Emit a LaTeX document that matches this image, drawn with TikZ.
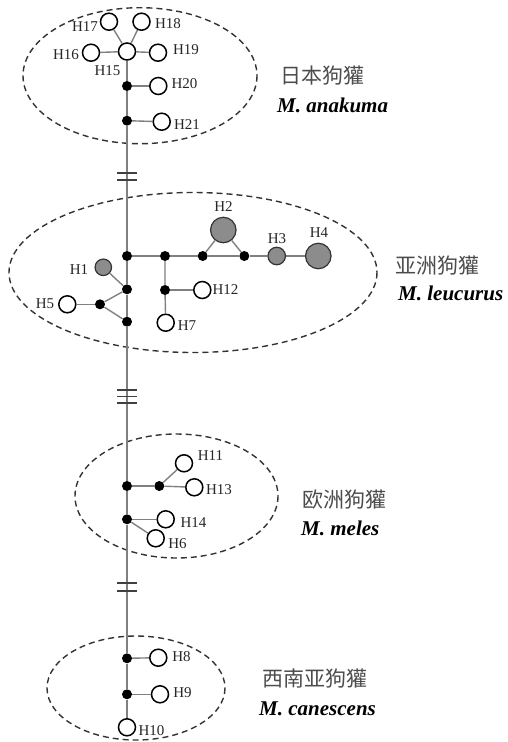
\documentclass[tikz,border=0pt]{standalone}
\usepackage{fontspec}
\setmainfont{Liberation Serif}
\newfontfamily\cjk{Noto Sans CJK SC}
\begin{document}
\begin{tikzpicture}[x=1pt,y=-1pt,
  link/.style={draw=black!50,line width=1.4pt},
  openhap/.style={circle,draw=black,line width=1.5pt,fill=white,minimum size=17pt,inner sep=0pt},
  grayhap/.style={circle,draw=black!80,line width=1.2pt,fill=black!45,minimum size=#1,inner sep=0pt},
  grayhap/.default=17pt,
  median/.style={circle,fill=black,minimum size=10pt,inner sep=0pt},
  hlabel/.style={font=\fontsize{15}{15}\selectfont,inner sep=0pt,text=black!85},
  group/.style={draw=black!80,line width=1.4pt,dash pattern=on 6pt off 4pt},
  cname/.style={font=\cjk\fontsize{21}{21}\selectfont,text=black!70,inner sep=0pt,anchor=west},
  sname/.style={font=\fontsize{21}{21}\selectfont\bfseries\itshape,inner sep=0pt,anchor=base west},
  breakbar/.style={draw=black!75,line width=1.3pt}
]
\useasboundingbox (0,0) rectangle (507,742);

% population ellipses
\draw[group] (140,75.7) ellipse [x radius=117, y radius=68];
\draw[group] (193,272.5) ellipse [x radius=184, y radius=80];
\draw[group] (176.5,496) ellipse [x radius=101.5, y radius=62];
\draw[group] (136,688) ellipse [x radius=89, y radius=52];

% ---- M. anakuma
\node[openhap] (H15) at (127,51.5) {};
\node[openhap] (H17) at (109,21.7) {};
\node[openhap] (H18) at (141.5,21.7) {};
\node[openhap] (H16) at (91,52.7) {};
\node[openhap] (H19) at (158,52.7) {};
\node[median] (a1) at (127,86) {};
\node[openhap] (H20) at (158.3,86) {};
\node[median] (a2) at (127,120.7) {};
\node[openhap] (H21) at (161.7,121.7) {};

% ---- M. leucurus
\node[median] (b1) at (127,256) {};
\node[median] (b4) at (165,256) {};
\node[median] (b5) at (202.7,256) {};
\node[median] (b6) at (244.3,256) {};
\node[grayhap=25.5pt] (H2) at (223.3,230) {};
\node[grayhap=17.5pt] (H3) at (276.7,256) {};
\node[grayhap=25.5pt] (H4) at (318.3,256) {};
\node[grayhap=16.5pt] (H1) at (103.3,267.3) {};
\node[median] (b2) at (127,289.3) {};
\node[median] (b3) at (100,304.3) {};
\node[median] (b7) at (127,321.7) {};
\node[openhap] (H5) at (67.3,304.3) {};
\node[median] (b8) at (165,290) {};
\node[openhap] (H12) at (202.3,290) {};
\node[openhap] (H7) at (165.7,322.7) {};

% ---- M. meles
\node[median] (c1) at (127,486) {};
\node[median] (c3) at (159.3,486) {};
\node[openhap] (H11) at (184,463.3) {};
\node[openhap] (H13) at (194.3,487.3) {};
\node[median] (c2) at (127,519.3) {};
\node[openhap] (H14) at (165.7,519.3) {};
\node[openhap] (H6) at (155.7,538.3) {};

% ---- M. canescens
\node[median] (e1) at (127,658.3) {};
\node[openhap] (H8) at (158.3,657.7) {};
\node[median] (e2) at (127,694.3) {};
\node[openhap] (H9) at (160,694.3) {};
\node[openhap] (H10) at (127,727.3) {};

% backbone
\draw[link] (H15) -- (a1) -- (a2) -- (b1) -- (b2) -- (b7) -- (c1) -- (c2) -- (e1) -- (e2) -- (H10);

% side branches
\draw[link] (H15) -- (H17);
\draw[link] (H15) -- (H18);
\draw[link] (H15) -- (H16);
\draw[link] (H15) -- (H19);
\draw[link] (a1) -- (H20);
\draw[link] (a2) -- (H21);
\draw[link] (b1) -- (b4) -- (b5) -- (b6) -- (H3) -- (H4);
\draw[link] (H2) -- (b5);
\draw[link] (H2) -- (b6);
\draw[link] (H1) -- (b2);
\draw[link] (b2) -- (b3) -- (b7);
\draw[link] (H5) -- (b3);
\draw[link] (b4) -- (b8) -- (H7);
\draw[link] (b8) -- (H12);
\draw[link] (c1) -- (c3);
\draw[link] (c3) -- (H11);
\draw[link] (c3) -- (H13);
\draw[link] (c2) -- (H14);
\draw[link] (c2) -- (H6);
\draw[link] (e1) -- (H8);
\draw[link] (e2) -- (H9);

% break marks on the backbone
\coordinate (k1) at (127,176.5);
\coordinate (k2) at (127,396.5);
\coordinate (k3) at (127,587);
\draw[breakbar] ([xshift=-10pt,yshift=3.5pt]k1) -- ([xshift=10pt,yshift=3.5pt]k1);
\draw[breakbar] ([xshift=-10pt,yshift=-3.5pt]k1) -- ([xshift=10pt,yshift=-3.5pt]k1);
\draw[breakbar] ([xshift=-10pt,yshift=6.5pt]k2) -- ([xshift=10pt,yshift=6.5pt]k2);
\draw[breakbar] ([xshift=-10pt]k2) -- ([xshift=10pt]k2);
\draw[breakbar] ([xshift=-10pt,yshift=-6.5pt]k2) -- ([xshift=10pt,yshift=-6.5pt]k2);
\draw[breakbar] ([xshift=-10pt,yshift=4pt]k3) -- ([xshift=10pt,yshift=4pt]k3);
\draw[breakbar] ([xshift=-10pt,yshift=-4pt]k3) -- ([xshift=10pt,yshift=-4pt]k3);

% haplotype labels
\node[hlabel] (lH17) at (85,27) {H17};
\node[hlabel] (lH18) at (168,24) {H18};
\node[hlabel] (lH16) at (66,55) {H16};
\node[hlabel] (lH19) at (186,50) {H19};
\node[hlabel] (lH15) at (107.5,71) {H15};
\node[hlabel] (lH20) at (184.5,84) {H20};
\node[hlabel] (lH21) at (187,125) {H21};
\node[hlabel] (lH2) at (223.5,207) {H2};
\node[hlabel] (lH3) at (277,239) {H3};
\node[hlabel] (lH4) at (319,233) {H4};
\node[hlabel] (lH1) at (79,270) {H1};
\node[hlabel] (lH5) at (45,304) {H5};
\node[hlabel] (lH12) at (225.5,290) {H12};
\node[hlabel] (lH7) at (187,326) {H7};
\node[hlabel] (lH11) at (210.5,456) {H11};
\node[hlabel] (lH13) at (219,490) {H13};
\node[hlabel] (lH14) at (193.5,523) {H14};
\node[hlabel] (lH6) at (177.5,544) {H6};
\node[hlabel] (lH8) at (181.5,657) {H8};
\node[hlabel] (lH9) at (182.5,693) {H9};
\node[hlabel] (lH10) at (151.5,731) {H10};

% population names
\node[cname] (n1) at (280,76) {日本狗獾};
\node[sname] (s1) at (277,112) {M. anakuma};
\node[cname] (n2) at (395,266) {亚洲狗獾};
\node[sname] (s2) at (398,300) {M. leucurus};
\node[cname] (n3) at (302,500) {欧洲狗獾};
\node[sname] (s3) at (301,535) {M. meles};
\node[cname] (n4) at (262,679) {西南亚狗獾};
\node[sname] (s4) at (259,715) {M. canescens};
\end{tikzpicture}
\end{document}
